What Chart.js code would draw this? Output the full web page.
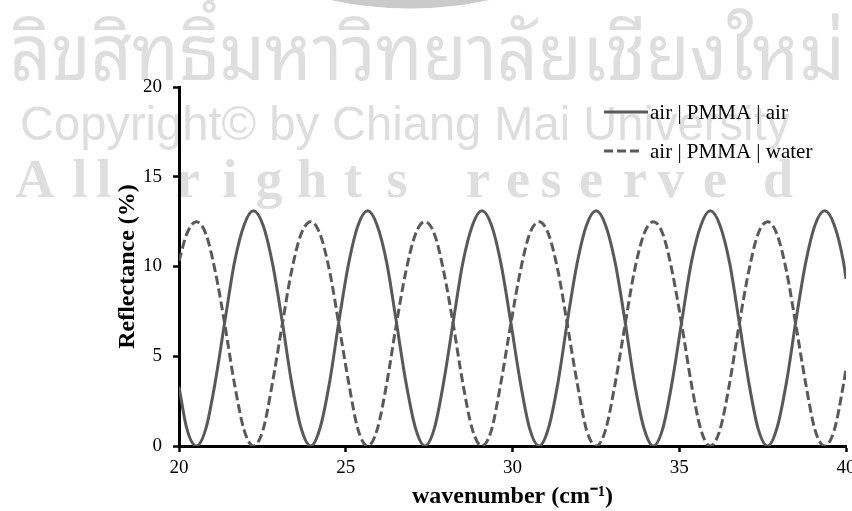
<!DOCTYPE html>
<html>
<head>
<meta charset="utf-8">
<title>Reflectance vs wavenumber</title>
<script src="https://cdn.jsdelivr.net/npm/chart.js@4.4.1/dist/chart.umd.min.js"></script>
<style>
  html, body { margin: 0; padding: 0; background: #ffffff; }
  #wrap { width: 852px; height: 511px; position: relative; }
</style>
</head>
<body>
<div id="wrap"><canvas id="reflectanceChart"></canvas></div>
<script>
// Wavenumber samples (cm-1), shared by both curves
const wavenumber = [
    20.00, 20.23,
    20.52, 20.81, 21.09, 21.38, 21.66, 21.95, 22.23, 22.52, 22.80, 23.09, 23.37, 23.66,
    23.95, 24.23, 24.52, 24.80, 25.09, 25.37, 25.66, 25.94, 26.23, 26.51, 26.80, 27.09,
    27.37, 27.66, 27.94, 28.23, 28.51, 28.80, 29.08, 29.37, 29.65, 29.94, 30.23, 30.51,
    30.80, 31.08, 31.37, 31.65, 31.94, 32.22, 32.51, 32.79, 33.08, 33.37, 33.65, 33.94,
    34.22, 34.51, 34.79, 35.08, 35.36, 35.65, 35.93, 36.22, 36.51, 36.79, 37.08, 37.36,
    37.65, 37.93, 38.22, 38.50, 38.79, 39.07, 39.36, 39.65, 39.93,
    40.00
];

// Reflectance (%): air | PMMA | air (solid)
const reflectanceAir = [
    3.3, 1.0,
    0.0, 1.0, 3.6, 7.0, 10.2, 12.3, 13.1, 12.3, 10.2, 7.0, 3.6, 1.0,
    0.0, 1.0, 3.6, 7.0, 10.2, 12.3, 13.1, 12.3, 10.2, 7.0, 3.6, 1.0,
    0.0, 1.0, 3.6, 7.0, 10.2, 12.3, 13.1, 12.3, 10.2, 7.0, 3.6, 1.0,
    0.0, 1.0, 3.6, 7.0, 10.2, 12.3, 13.1, 12.3, 10.2, 7.0, 3.6, 1.0,
    0.0, 1.0, 3.6, 7.0, 10.2, 12.3, 13.1, 12.3, 10.2, 7.0, 3.6, 1.0,
    0.0, 1.0, 3.6, 7.0, 10.2, 12.3, 13.1, 12.3, 10.2,
    9.3
];

// Reflectance (%): air | PMMA | water (dashed)
const reflectanceWater = [
    10.3, 11.8,
    12.5, 11.8, 9.7, 6.7, 3.5, 0.9, 0.0, 0.9, 3.5, 6.7, 9.7, 11.8,
    12.5, 11.8, 9.7, 6.7, 3.5, 0.9, 0.0, 0.9, 3.5, 6.7, 9.7, 11.8,
    12.5, 11.8, 9.7, 6.7, 3.5, 0.9, 0.0, 0.9, 3.5, 6.7, 9.7, 11.8,
    12.5, 11.8, 9.7, 6.7, 3.5, 0.9, 0.0, 0.9, 3.5, 6.7, 9.7, 11.8,
    12.5, 11.8, 9.7, 6.7, 3.5, 0.9, 0.0, 0.9, 3.5, 6.7, 9.7, 11.8,
    12.5, 11.8, 9.7, 6.7, 3.5, 0.9, 0.0, 0.9, 3.5,
    4.3
];

const seriesLabels = ['air | PMMA | air', 'air | PMMA | water'];
const xTicks = [20, 25, 30, 35, 40];
const yTicks = [0, 5, 10, 15, 20];

const serif = '"Liberation Serif", "Times New Roman", serif';
Chart.defaults.font.family = serif;
Chart.defaults.color = '#000000';

// Draw text squeezed/stretched to a given width
function fitText(ctx, text, x, y, width, font) {
    ctx.font = font;
    const w = ctx.measureText(text).width;
    ctx.save();
    ctx.translate(x, y);
    ctx.scale(width / w, 1);
    ctx.fillText(text, 0, 0);
    ctx.restore();
}

// Grey copyright watermark behind the plot
const watermark = {
    id: 'watermark',
    beforeDraw(chart) {
        const ctx = chart.ctx;
        ctx.save();
        ctx.fillStyle = '#ffffff';
        ctx.fillRect(0, 0, chart.width, chart.height);

        // bottom of the university seal
        ctx.strokeStyle = '#cacaca';
        ctx.lineWidth = 9;
        ctx.beginPath();
        ctx.arc(410, -366, 370, 0, Math.PI);
        ctx.stroke();

        ctx.fillStyle = '#dedede';
        ctx.textBaseline = 'alphabetic';
        fitText(ctx, 'ลิขสิทธิ์มหาวิทยาลัยเชียงใหม่', 10, 80, 835,
            '78px "Noto Sans Thai Looped", "Noto Serif Thai", Loma, Garuda, "Noto Sans Thai", sans-serif');
        fitText(ctx, 'Copyright© by Chiang Mai University', 20, 140, 770,
            '48px "Liberation Sans Narrow", "Liberation Sans", sans-serif');

        // spaced-out letters of the last line
        const letters = 'Allrightsreserved'.split('');
        const centers = [35, 80, 104, 188, 230, 269, 312, 353, 397, 478, 518, 551, 591, 635, 671, 715, 778];
        ctx.font = 'bold 54px ' + serif;
        ctx.textAlign = 'center';
        letters.forEach((ch, i) => ctx.fillText(ch, centers[i], 197));
        ctx.restore();
    }
};

// Legend drawn inside the plot, top right
const insideLegend = {
    id: 'insideLegend',
    afterDraw(chart) {
        const ctx = chart.ctx;
        const rows = [112, 151];
        chart.data.datasets.forEach((ds, i) => {
            ctx.save();
            ctx.strokeStyle = ds.borderColor;
            ctx.lineWidth = ds.borderWidth;
            ctx.setLineDash(ds.borderDash || []);
            ctx.beginPath();
            ctx.moveTo(604, rows[i]);
            ctx.lineTo(ds.borderDash ? 643 : 648, rows[i]);
            ctx.stroke();
            ctx.fillStyle = '#000000';
            ctx.font = '21px ' + serif;
            ctx.textBaseline = 'middle';
            ctx.fillText(ds.label, 650, rows[i] + 1);
            ctx.restore();
        });
    }
};

function toPoints(ys) {
    return wavenumber.map((x, i) => ({ x: x, y: ys[i] }));
}

const config = {
    type: 'line',
    data: {
        datasets: [{
            label: seriesLabels[0],
            data: toPoints(reflectanceAir),
            borderColor: '#595959',
            borderWidth: 3,
            pointRadius: 0,
            cubicInterpolationMode: 'monotone'
        }, {
            label: seriesLabels[1],
            data: toPoints(reflectanceWater),
            borderColor: '#595959',
            borderWidth: 3,
            borderDash: [9, 4],
            pointRadius: 0,
            cubicInterpolationMode: 'monotone'
        }]
    },
    options: {
        responsive: true,
        maintainAspectRatio: false,
        animation: false,
        layout: { padding: { left: 105, top: 87, right: 6, bottom: 0 } },
        plugins: {
            legend: { display: false },
            tooltip: { enabled: false }
        },
        scales: {
            x: {
                type: 'linear',
                min: 20,
                max: 40,
                afterBuildTicks: (scale) => { scale.ticks = xTicks.map(v => ({ value: v })); },
                afterFit: (scale) => { scale.height = 65; scale.paddingRight = 0; },
                grid: { display: true, drawOnChartArea: false, tickLength: 6, tickWidth: 2.5, tickColor: '#000000' },
                border: { display: true, color: '#000000', width: 3 },
                ticks: { font: { size: 19 }, padding: 5, color: '#000000', maxRotation: 0 },
                title: {
                    display: true,
                    text: 'wavenumber (cm⁻¹)',
                    font: { size: 24, weight: 'bold' },
                    padding: { top: 0, bottom: 0 },
                    color: '#000000'
                }
            },
            y: {
                min: 0,
                max: 20,
                afterBuildTicks: (scale) => { scale.ticks = yTicks.map(v => ({ value: v })); },
                afterFit: (scale) => { scale.width = 74; },
                grid: { display: true, drawOnChartArea: false, tickLength: 6, tickWidth: 2.5, tickColor: '#000000' },
                border: { display: true, color: '#000000', width: 3 },
                ticks: { font: { size: 19 }, padding: 11, color: '#000000' },
                title: {
                    display: true,
                    text: 'Reflectance (%)',
                    font: { size: 24, weight: 'bold' },
                    padding: { top: 8, bottom: 0 },
                    color: '#000000'
                }
            }
        }
    },
    plugins: [watermark, insideLegend]
};

new Chart(document.getElementById('reflectanceChart'), config);
</script>
</body>
</html>
